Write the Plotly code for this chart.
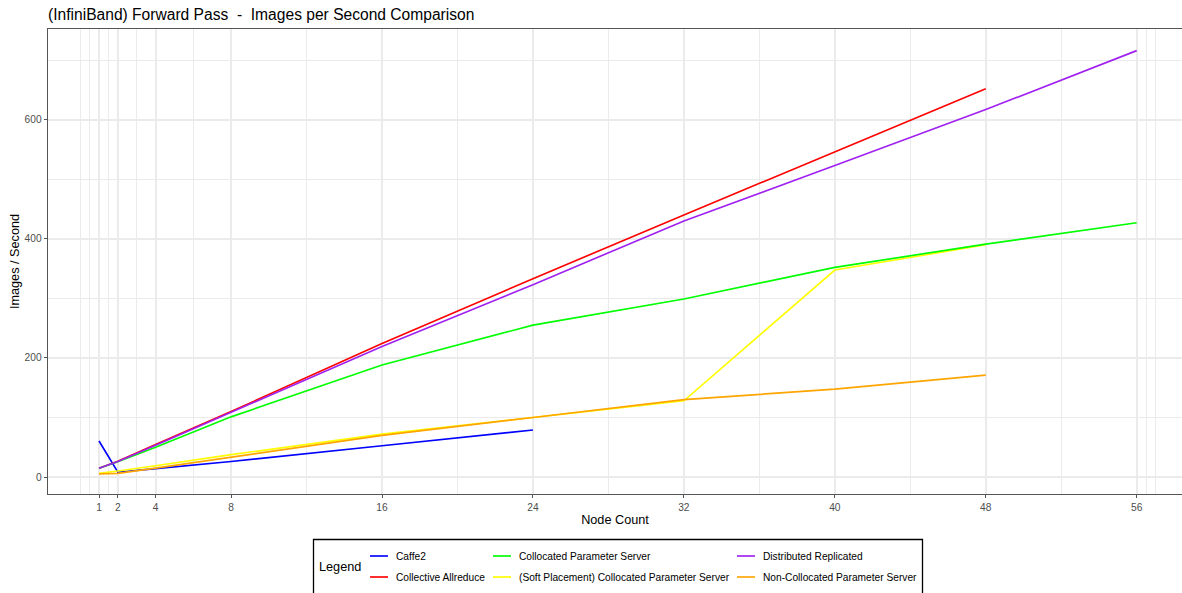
import plotly.graph_objects as go

# ---------------- data ----------------
nodes_caffe2 = [1, 2, 4, 8, 16, 24]
caffe2 = [60.4, 8.0, 14.0, 26.0, 52.5, 79.0]

nodes_allreduce = [1, 2, 4, 8, 16, 24, 32, 40, 48]
collective_allreduce = [14.6, 26.5, 54.5, 110, 224, 333, 440, 546, 652]

nodes_soft = [1, 2, 4, 8, 16, 24, 32, 40, 48]
soft_collocated_ps = [6.2, 10, 19, 37.5, 72, 100, 128, 347.5, 390]

nodes_collocated = [1, 2, 4, 8, 16, 24, 32, 40, 48, 56]
collocated_ps = [14.6, 25.7, 50, 101, 188, 255, 299, 352, 391, 427]

nodes_distributed = [1, 2, 4, 8, 16, 24, 32, 40, 48, 56]
distributed_replicated = [14.6, 26, 53.5, 109, 219, 323, 430, 523, 617, 716]

nodes_noncollocated = [1, 2, 4, 8, 16, 24, 32, 40, 48]
noncollocated_ps = [5.3, 6.2, 15, 33, 70, 100, 130, 147.5, 171]

x_ticks = [1, 2, 4, 8, 16, 24, 32, 40, 48, 56]
x_minor = [0, 0.5, 1.5, 3, 6, 12, 20, 28, 36, 44, 52, 56.5, 57]
y_ticks = [0, 200, 400, 600]
y_minor = [100, 300, 500, 700]

title_text = "(InfiniBand) Forward Pass \u00a0-\u00a0 Images per Second Comparison"

# ---------------- style ----------------
FONT = "Liberation Sans, Arial, sans-serif"
LW = 1.64
BORDER = "#555555"
series = [
    # name, x, y, colour, legend column, legend row
    ("Caffe2", nodes_caffe2, caffe2, "#0000FF", 0, 0),
    ("Collective Allreduce", nodes_allreduce, collective_allreduce, "#FF0000", 0, 1),
    ("(Soft Placement) Collocated Parameter Server", nodes_soft, soft_collocated_ps, "#FFFF00", 1, 1),
    ("Collocated Parameter Server", nodes_collocated, collocated_ps, "#00FF00", 1, 0),
    ("Distributed Replicated", nodes_distributed, distributed_replicated, "#A020F0", 2, 0),
    ("Non-Collocated Parameter Server", nodes_noncollocated, noncollocated_ps, "#FFA500", 2, 1),
]

PL, PR, PT, PB = 48, 1182, 29, 494
W, H = 1182, 593


def px_x(px):
    return (px - PL) / (PR - PL)


def px_y(py):
    return (PB - py) / (PB - PT)


fig = go.Figure()
for name, xs, ys, col, _, _ in series:
    fig.add_trace(go.Scatter(x=xs, y=ys, mode="lines", name=name,
                             line=dict(color=col, width=LW), showlegend=False))

# ---------------- manual legend (ggplot style box) ----------------
shapes = []
annotations = []
shapes.append(dict(type="rect", xref="paper", yref="paper",
                   x0=px_x(313.5), x1=px_x(922.5), y0=px_y(539.5), y1=px_y(610),
                   line=dict(color="#000000", width=1.3), fillcolor="rgba(0,0,0,0)"))
annotations.append(dict(text="Legend", xref="paper", yref="paper", x=px_x(317), y=px_y(566.5),
                        xanchor="left", yanchor="middle", showarrow=False,
                        font=dict(family=FONT, size=12.7, color="#000000")))
col_line_x = [370, 493, 737]
row_y = [556, 577]
for name, xs, ys, col, c, r in series:
    lx = col_line_x[c]
    yy = px_y(row_y[r])
    shapes.append(dict(type="line", xref="paper", yref="paper",
                       x0=px_x(lx), x1=px_x(lx + 18), y0=yy, y1=yy,
                       line=dict(color=col, width=LW)))
    annotations.append(dict(text=name, xref="paper", yref="paper", x=px_x(lx + 24), y=yy,
                            xanchor="left", yanchor="middle", showarrow=False,
                            font=dict(family=FONT, size=10.2, color="#000000")))

fig.update_layout(
    width=W, height=H,
    margin=dict(l=PL, r=W - PR, t=PT, b=H - PB, pad=0),
    paper_bgcolor="#FFFFFF", plot_bgcolor="#FFFFFF",
    font=dict(family=FONT, color="#000000"),
    title=dict(text=title_text, x=0, xref="paper", xanchor="left",
               y=1 - 15 / H, yref="container", yanchor="middle",
               font=dict(family=FONT, size=15.6, color="#000000")),
    shapes=shapes, annotations=annotations,
    showlegend=False,
)

fig.update_xaxes(
    range=[1 + (PL - 99) / 18.867, 1 + (PR - 99) / 18.867],
    tickmode="array", tickvals=x_ticks, ticktext=[str(v) for v in x_ticks],
    showgrid=True, gridcolor="#EBEBEB", gridwidth=LW,
    minor=dict(tickvals=x_minor, showgrid=True, gridcolor="#EBEBEB", gridwidth=0.82, ticks=""),
    zeroline=False, showline=True, linecolor=BORDER, linewidth=1.3, mirror=True,
    ticks="outside", ticklen=3.2, tickwidth=1.3, tickcolor=BORDER,
    tickfont=dict(family=FONT, size=10.2, color="#4D4D4D"),
    title=dict(text="Node Count", font=dict(family=FONT, size=12.7, color="#000000"), standoff=3),
    automargin=False,
)
fig.update_yaxes(
    range=[-(PB - 477) / 0.5955, (477 - PT) / 0.5955],
    tickmode="array", tickvals=y_ticks, ticktext=[str(v) for v in y_ticks],
    showgrid=True, gridcolor="#EBEBEB", gridwidth=LW,
    minor=dict(tickvals=y_minor, showgrid=True, gridcolor="#EBEBEB", gridwidth=0.82, ticks=""),
    zeroline=False, showline=True, linecolor=BORDER, linewidth=1.3, mirror=False,
    ticks="outside", ticklen=3.2, tickwidth=1.3, tickcolor=BORDER,
    tickfont=dict(family=FONT, size=10.2, color="#4D4D4D"),
    title=dict(text="Images / Second", font=dict(family=FONT, size=12.7, color="#000000"), standoff=2),
    automargin=False,
)

fig.write_html("out.html", config={"displayModeBar": False},
               post_script="document.body.style.margin='0';document.body.style.overflow='hidden';")
